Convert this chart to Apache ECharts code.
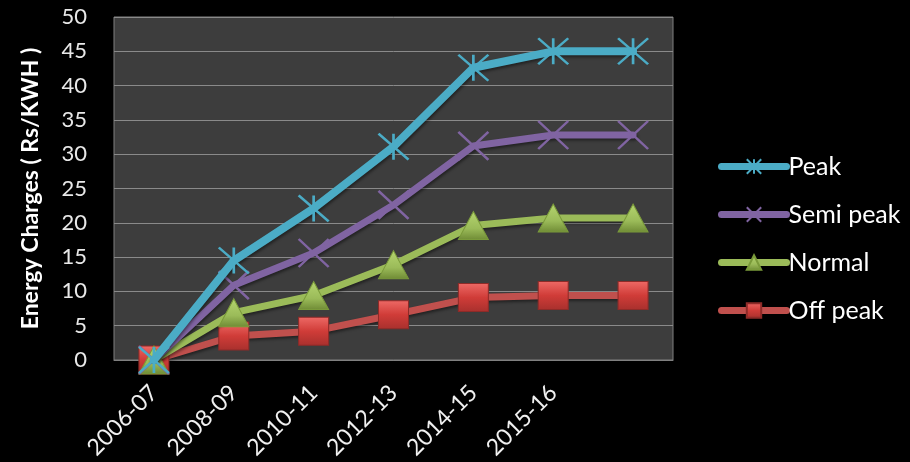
<!DOCTYPE html>
<html>
<head>
<meta charset="utf-8">
<script src="https://cdn.jsdelivr.net/npm/echarts@6/dist/echarts.min.js"></script>
<style>
html,body{margin:0;padding:0;background:#000;}
#chart{width:910px;height:462px;}
</style>
</head>
<body>
<div id="chart"></div>
<script>
const categories = ['2006-07', '2008-09', '2010-11', '2012-13', '2014-15', '2015-16', ''];
const peak     = [0, 14.5, 22.1, 31.1, 42.6, 45, 45];
const semiPeak = [0, 10.9, 15.6, 22.6, 31.2, 32.8, 32.8];
const normal   = [0, 6.9, 9.4, 13.9, 19.6, 20.7, 20.7];
const offPeak  = [0, 3.5, 4.2, 6.6, 9.1, 9.4, 9.4];
const yTicks = { min: 0, max: 50, interval: 5 };

const FONT = 'Lato';
const chart = echarts.init(document.getElementById('chart'));

const shadow = { shadowColor: 'rgba(0,0,0,0.45)', shadowBlur: 3, shadowOffsetX: 1, shadowOffsetY: 2, cap: 'round', join: 'round' };

chart.setOption({
  backgroundColor: '#000000',
  animation: false,
  grid: { left: 114, top: 17, right: 237, bottom: 102, containLabel: false, outerBoundsMode: 'none', show: true, backgroundColor: '#3d3d3d', borderColor: '#808080', borderWidth: 1 },
  legend: {
    orient: 'vertical', left: 713, top: 149, itemWidth: 65, itemHeight: 18, itemGap: 23,
    textStyle: { color: '#ffffff', fontFamily: FONT, fontSize: 25, padding: [0, 0, 0, -3] },
    lineStyle: { width: 7, cap: 'round' },
    data: ['Peak', 'Semi peak', 'Normal', 'Off peak']
  },
  xAxis: {
    type: 'category', data: categories, boundaryGap: true,
    axisLine: { show: true, lineStyle: { color: '#808080', width: 1 } },
    axisTick: { show: false },
    axisLabel: { rotate: 45, margin: 29, color: '#f0f0f0', fontFamily: FONT, fontSize: 23, interval: 0 },
    splitLine: { show: false }
  },
  yAxis: {
    type: 'value', min: yTicks.min, max: yTicks.max, interval: yTicks.interval,
    name: 'Energy Charges ( Rs/KWH )', nameLocation: 'middle', nameGap: 72,
    nameTextStyle: { color: '#ffffff', fontFamily: FONT, fontSize: 23, fontWeight: 'bold' },
    axisLine: { show: false }, axisTick: { show: false },
    axisLabel: { margin: 27, color: '#e8e8e8', fontFamily: FONT, fontSize: 22 },
    splitLine: { show: true, lineStyle: { color: '#8a8a8a', width: 1 } }
  },
  series: [
    {
      name: 'Peak', type: 'line', data: peak, z: 5,
      symbol: 'path://M0 0 L10 10 M10 0 L0 10 M5 0 L5 10', symbolSize: [30, 26],
      itemStyle: { color: '#4bacc6', borderColor: '#4bacc6', borderWidth: 2.5 },
      lineStyle: Object.assign({ color: '#4bacc6', width: 8 }, shadow)
    },
    {
      name: 'Semi peak', type: 'line', data: semiPeak, z: 4,
      symbol: 'path://M0 0 L10 10 M10 0 L0 10', symbolSize: [30, 28],
      itemStyle: { color: '#8064a2', borderColor: '#8064a2', borderWidth: 2.5 },
      lineStyle: Object.assign({ color: '#8064a2', width: 7 }, shadow)
    },
    {
      name: 'Normal', type: 'line', data: normal, z: 3,
      symbol: 'triangle', symbolSize: [30, 28],
      itemStyle: {
        color: new echarts.graphic.LinearGradient(0, 0, 0, 1, [
          { offset: 0, color: '#b5d56f' }, { offset: 0.6, color: '#9bbb59' }, { offset: 1, color: '#6f8b35' }
        ]),
        borderColor: '#7a9a3a', borderWidth: 1
      },
      lineStyle: Object.assign({ color: '#9bbb59', width: 7 }, shadow)
    },
    {
      name: 'Off peak', type: 'line', data: offPeak, z: 2,
      symbol: 'rect', symbolSize: [30, 28],
      itemStyle: {
        color: new echarts.graphic.LinearGradient(0, 0, 0, 1, [
          { offset: 0, color: '#ee6a66' }, { offset: 0.5, color: '#d03c38' }, { offset: 1, color: '#a8302d' }
        ]),
        borderColor: '#8e2b28', borderWidth: 1
      },
      lineStyle: Object.assign({ color: '#c0504d', width: 7 }, shadow)
    }
  ]
});
</script>
</body>
</html>
